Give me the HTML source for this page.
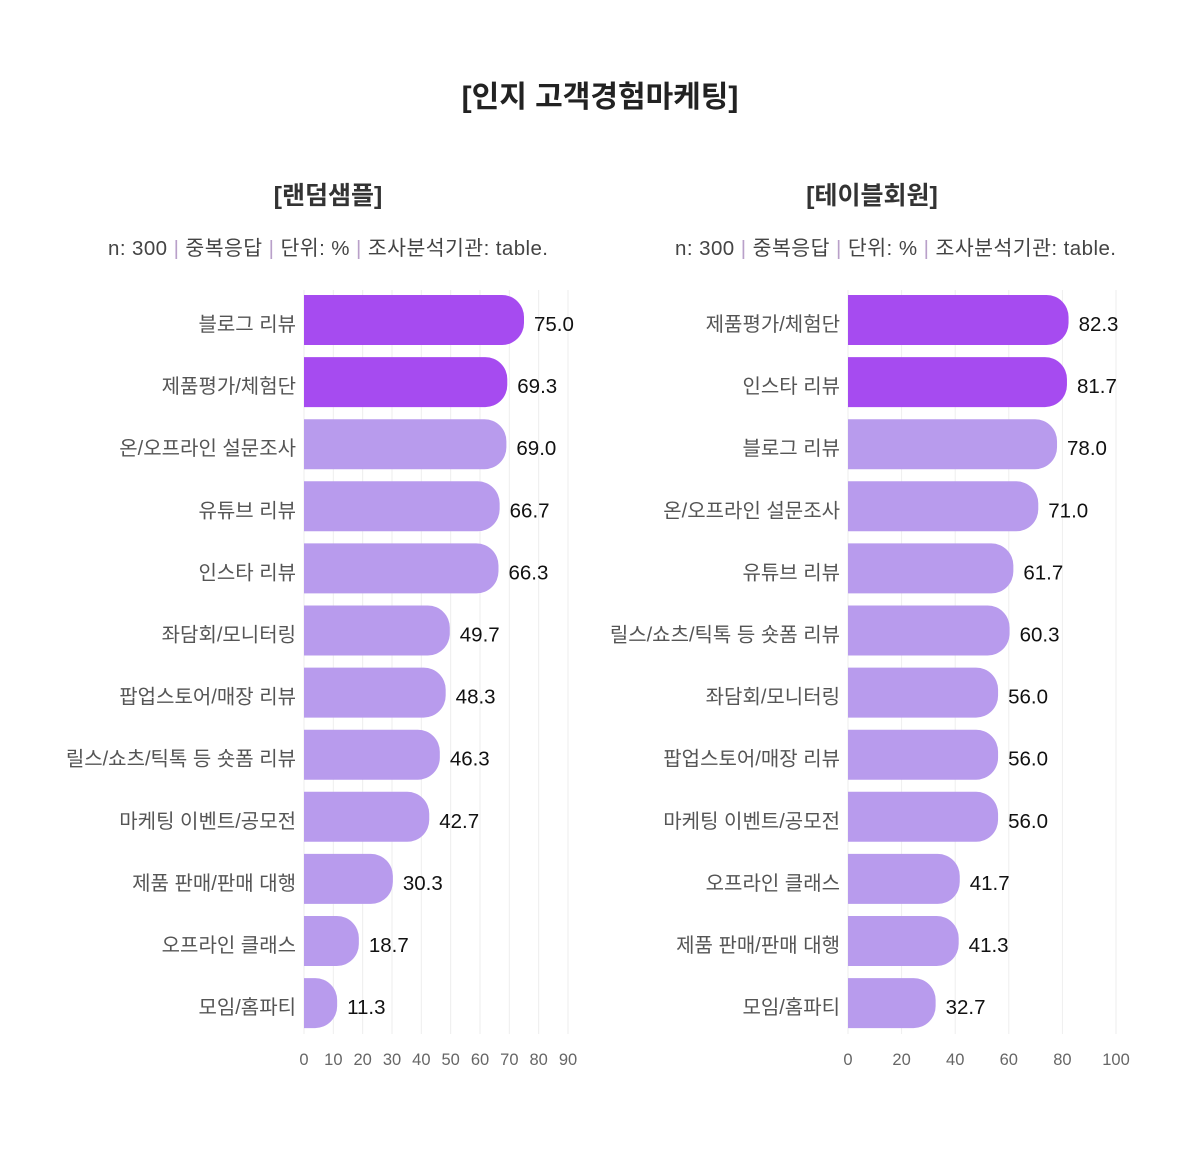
<!DOCTYPE html>
<html><head><meta charset="utf-8"><style>
body{margin:0;background:#fff;width:1200px;height:1164px;overflow:hidden}
svg{display:block}
text{font-family:"Liberation Sans","Noto Sans CJK KR",sans-serif}
</style></head><body>
<svg id="s" width="1200" height="1164" xmlns="http://www.w3.org/2000/svg">
<text x="600" y="107" text-anchor="middle" font-size="30" font-weight="bold" fill="#222">[인지 고객경험마케팅]</text>
<text x="328" y="204" text-anchor="middle" font-size="25" font-weight="bold" fill="#333">[랜덤샘플]</text>
<text x="872" y="204" text-anchor="middle" font-size="25" font-weight="bold" fill="#333">[테이블회원]</text>
<text x="108" y="255" font-size="20.5" fill="#444" textLength="440">n: 300 <tspan fill="#b9a0c9">|</tspan>  중복응답 <tspan fill="#b9a0c9">|</tspan> 단위: % <tspan fill="#b9a0c9">|</tspan> 조사분석기관: table.</text>
<text x="675" y="255" font-size="20.5" fill="#444" textLength="441">n: 300 <tspan fill="#b9a0c9">|</tspan>  중복응답 <tspan fill="#b9a0c9">|</tspan> 단위: % <tspan fill="#b9a0c9">|</tspan> 조사분석기관: table.</text>
</svg>
<script>
var s=document.getElementById('s'),out='';
function chart(x0,sc,ticks,data){
 ticks.forEach(function(t){var x=x0+t*sc;
  out+='<line x1="'+x+'" y1="290" x2="'+x+'" y2="1034" stroke="#eee" stroke-width="1"/>';
  out+='<text x="'+x+'" y="1065" text-anchor="middle" font-size="16.5" fill="#666">'+t+'</text>';});
 data.forEach(function(d,i){var y=295+i*62.1,w=d[1]*sc,r=22,h=50;
  var c=i<2?'#a64bf0':'#b89bed';
  out+='<path d="M'+x0+' '+y+' h'+(w-r)+' a'+r+' '+r+' 0 0 1 '+r+' '+r+' v'+(h-2*r)+' a'+r+' '+r+' 0 0 1 -'+r+' '+r+' h-'+(w-r)+' z" fill="'+c+'"/>';
  out+='<text x="'+(x0-8)+'" y="'+(y+36)+'" text-anchor="end" font-size="20" fill="#555">'+d[0]+'</text>';
  out+='<text x="'+(x0+w+10)+'" y="'+(y+36)+'" font-size="20.5" fill="#111">'+d[1].toFixed(1)+'</text>';});
}
chart(304,264/90,[0,10,20,30,40,50,60,70,80,90],[["블로그 리뷰",75],["제품평가/체험단",69.3],["온/오프라인 설문조사",69],["유튜브 리뷰",66.7],["인스타 리뷰",66.3],["좌담회/모니터링",49.7],["팝업스토어/매장 리뷰",48.3],["릴스/쇼츠/틱톡 등 숏폼 리뷰",46.3],["마케팅 이벤트/공모전",42.7],["제품 판매/판매 대행",30.3],["오프라인 클래스",18.7],["모임/홈파티",11.3]]);
chart(848,2.68,[0,20,40,60,80,100],[["제품평가/체험단",82.3],["인스타 리뷰",81.7],["블로그 리뷰",78],["온/오프라인 설문조사",71],["유튜브 리뷰",61.7],["릴스/쇼츠/틱톡 등 숏폼 리뷰",60.3],["좌담회/모니터링",56],["팝업스토어/매장 리뷰",56],["마케팅 이벤트/공모전",56],["오프라인 클래스",41.7],["제품 판매/판매 대행",41.3],["모임/홈파티",32.7]]);
s.insertAdjacentHTML('beforeend',out);
</script>
</body></html>
